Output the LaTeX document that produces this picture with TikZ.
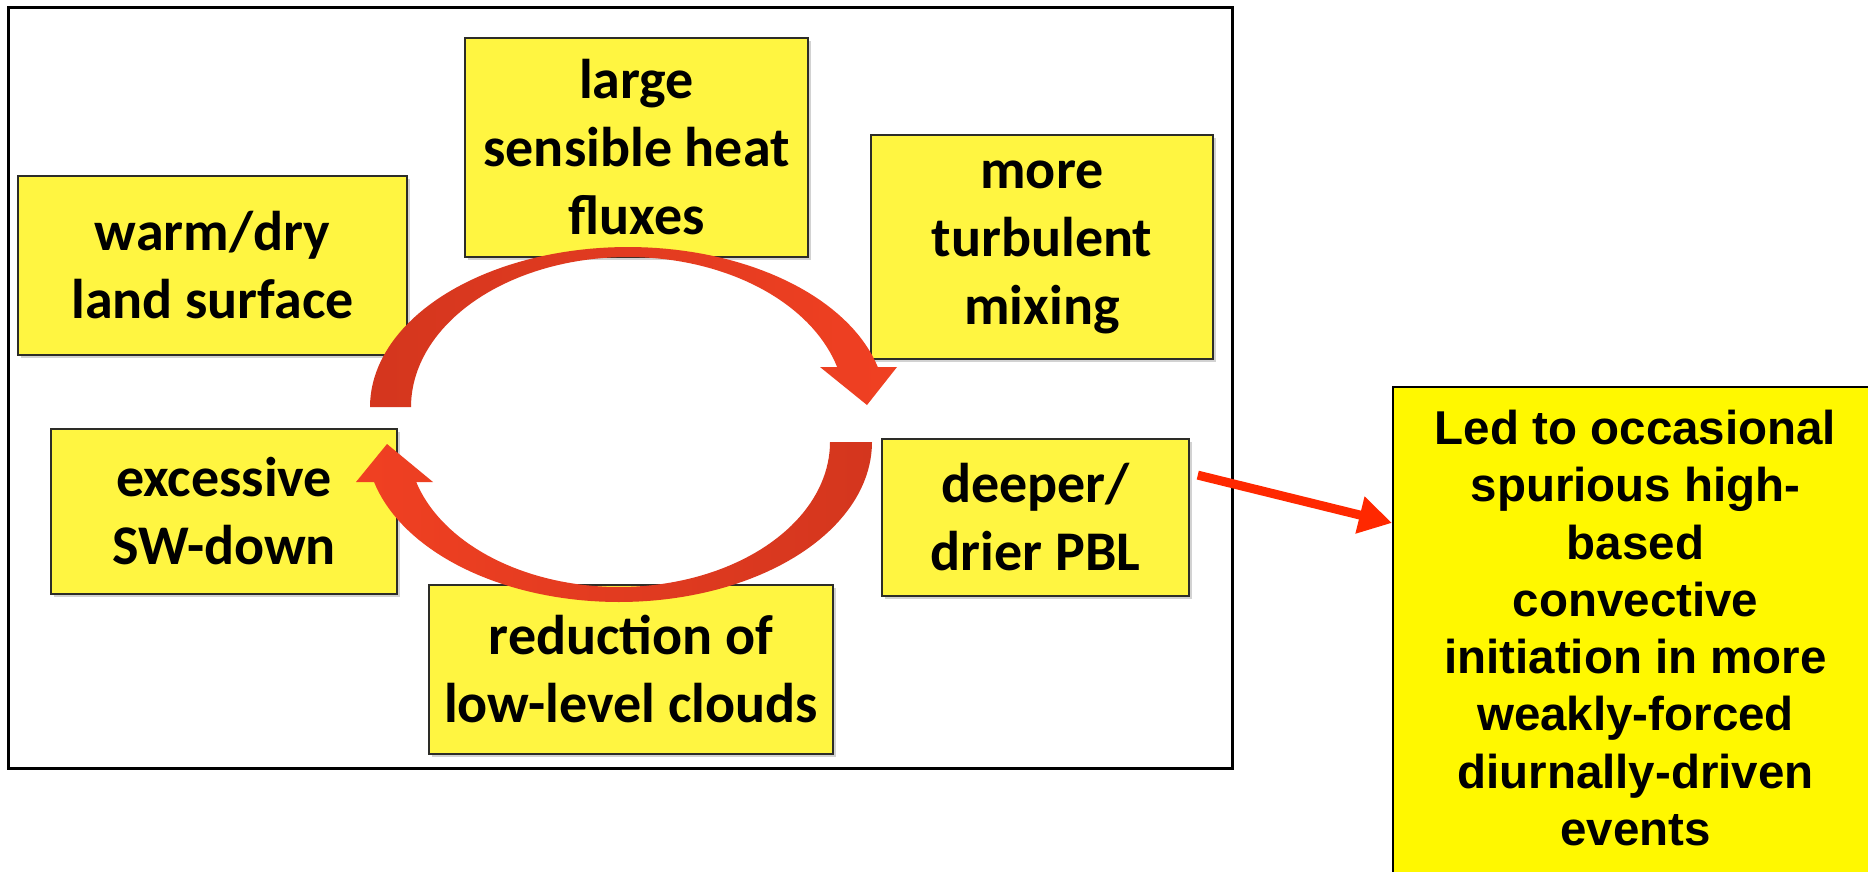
\documentclass[tikz,border=0pt]{standalone}
\usepackage{fontspec}
\setmainfont{Carlito}
\newfontfamily\arialfam{Liberation Sans}
\usetikzlibrary{arrows.meta,shadows}
\definecolor{boxfill}{RGB}{255,245,65}
\definecolor{boxborder}{RGB}{45,45,40}
\definecolor{arcdark}{RGB}{212,54,30}
\definecolor{arcbright}{RGB}{240,64,34}
\definecolor{arrowred}{RGB}{255,40,0}
\definecolor{resfill}{RGB}{255,248,0}
\tikzset{
  fbox/.style={draw=boxborder, line width=2pt, fill=boxfill, align=center,
    inner sep=0pt, font=\bfseries\fontsize{56}{68}\selectfont,
    drop shadow={shadow xshift=2.5pt, shadow yshift=-2.5pt, opacity=0.35}},
  resbox/.style={draw=black, line width=2pt, fill=resfill, inner sep=0pt},
  restext/.style={align=center, inner sep=0pt,
    font=\arialfam\bfseries\fontsize{47.5}{57.3}\selectfont},
  framebox/.style={draw=black, line width=3pt, inner sep=0pt},
  cyclearc/.style={shade, shading angle=90},
  linkarrow/.style={draw=arrowred, line width=9pt,
    -{Triangle[length=33pt,width=36pt]}, shorten <=8pt}
}
\begin{document}
\begin{tikzpicture}[x=1pt,y=-1pt]
\useasboundingbox (0,0) rectangle (1868,871);
\clip (0,0) rectangle (1868,871);
\fill[white] (0,0) rectangle (1868,871);
% outer frame
\node[framebox, minimum width=1224pt, minimum height=761pt] (frame) at (620,387.5) {};
% cycle boxes
\node[fbox, minimum width=389pt, minimum height=179pt] (warm) at (212.5,265.5)
  {\fontsize{56}{83}\selectfont warm/dry\\land surface};
\node[fbox, minimum width=343pt, minimum height=219pt] (heat) at (636.5,147.5)
  {large\\sensible heat\\fluxes};
\node[fbox, minimum width=342pt, minimum height=224pt] (turb) at (1042,247)
  {more\\turbulent\\mixing};
\node[fbox, minimum width=346pt, minimum height=165pt] (sw) at (224,511.5)
  {excessive\\SW-down};
\node[fbox, minimum width=307pt, minimum height=157pt] (pbl) at (1035.5,517.5)
  {deeper/\\drier PBL};
\node[fbox, minimum width=404pt, minimum height=169pt] (cloud) at (631,669.5)
  {reduction of\\low-level clouds};
% upper curved arrow
\path[cyclearc, left color=arcdark, right color=arcbright]
  plot[domain=180:14.48, samples=80] ({628+258*cos(\x)},{407-160*sin(\x)})
  -- (897,367) -- (867,405) -- (820,367)
  -- plot[domain=15.47:180, samples=80] ({628+217*cos(\x)},{407-150*sin(\x)})
  -- cycle;
% lower curved arrow
\path[cyclearc, left color=arcbright, right color=arcdark]
  plot[domain=0:165.52, samples=80] ({619+253*cos(\x)},{442+160*sin(\x)})
  -- (356,482) -- (387,444) -- (433,482)
  -- plot[domain=163.99:0, samples=80] ({619+211*cos(\x)},{442+145*sin(\x)})
  -- cycle;
% result box
\node[resbox, minimum width=485pt, minimum height=520pt] (res) at (1635.5,647) {};
\node[restext] (rtext) at (1635.5,628)
  {Led to occasional\\spurious high-\\based\\convective\\initiation in more\\weakly-forced\\diurnally-driven\\events};
% link arrow
\draw[linkarrow] (pbl.16) -- (res.153);
\end{tikzpicture}
\end{document}
